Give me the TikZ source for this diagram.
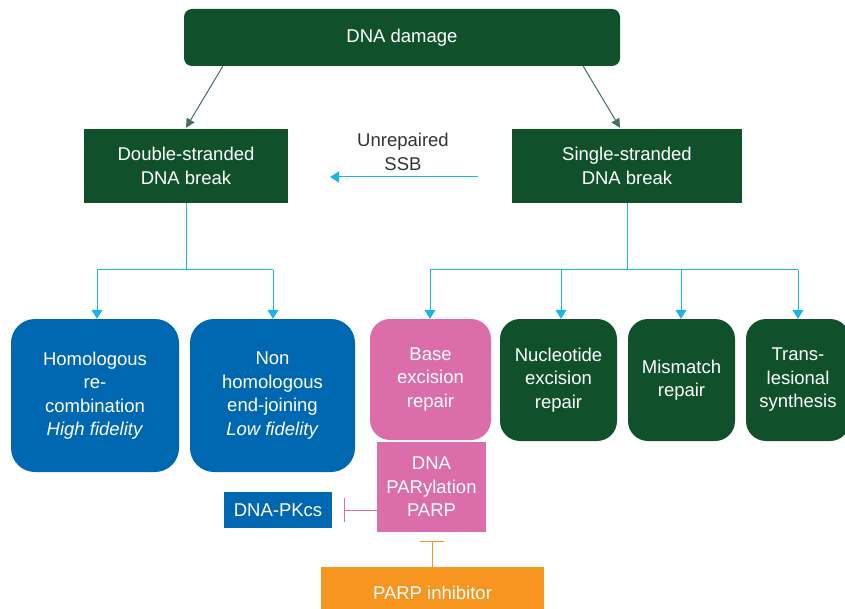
\documentclass[tikz,border=0pt]{standalone}
\usepackage{fontspec}
\setmainfont{Liberation Sans}
\usetikzlibrary{arrows.meta,calc}
\definecolor{dgreen}{HTML}{10512C}
\definecolor{dblue}{HTML}{0067B1}
\definecolor{dpink}{HTML}{DB6EAA}
\definecolor{dorange}{HTML}{F6951F}
\definecolor{dcyan}{HTML}{1CB5EA}
\definecolor{dgray}{HTML}{333333}
\definecolor{garrow}{HTML}{46705A}
\begin{document}
\begin{tikzpicture}[x=1pt,y=-1pt,
  every node/.style={font=\fontsize{18.5}{23.5}\selectfont, align=center, text=white, inner sep=0pt},
  cyanarrow/.style={draw=dcyan, line width=1pt, -{Triangle[length=9pt,width=11pt]}},
  cyanline/.style={draw=dcyan, line width=1pt},
  grayarrow/.style={draw=garrow, line width=1pt, -{Triangle[length=9pt,width=9pt]}},
  inhib/.style={line width=1pt, -{Bar[width=24pt]}}
]
\useasboundingbox (0,0) rectangle (845,609);
\begin{scope}
\clip (0,0) rectangle (845,609);
% top
\node[fill=dgreen, rounded corners=8pt, minimum width=436pt, minimum height=57pt] (dmg) at (402,37.5) {DNA damage};
\node[fill=dgreen, minimum width=204pt, minimum height=74pt] (ds) at (186,166) {Double-stranded\\DNA break};
\node[fill=dgreen, minimum width=230pt, minimum height=74pt] (ss) at (627,166) {Single-stranded\\DNA break};
% bottom row
\node[fill=dblue, rounded corners=24pt, minimum width=168pt, minimum height=153pt] (hr) at (95,395.5) {Homologous\\re-\\combination\\\textit{High fidelity}};
\node[fill=dblue, rounded corners=24pt, minimum width=165pt, minimum height=153pt] (nhej) at (272.5,395.5) {Non\\homologous\\end-joining\\\textit{Low fidelity}};
\node[fill=dpink, rounded corners=20pt, minimum width=121pt, minimum height=121pt] (ber) at (430.5,379.5) {Base\\excision\\repair};
\node[fill=dgreen, rounded corners=20pt, minimum width=117pt, minimum height=122pt] (ner) at (558.5,380) {Nucleotide\\excision\\repair};
\node[fill=dgreen, rounded corners=20pt, minimum width=107pt, minimum height=122pt] (mmr) at (681.5,380) {Mismatch\\repair};
\node[fill=dgreen, rounded corners=20pt, minimum width=104pt, minimum height=122pt] (tls) at (798,380) {Trans-\\lesional\\synthesis};
\node[fill=dpink, minimum width=109pt, minimum height=90pt] (par) at (431.5,487) {DNA\\PARylation\\PARP};
\node[fill=dblue, minimum width=108pt, minimum height=36pt] (pk) at (278,510) {DNA-PKcs};
\node[fill=dorange, minimum width=223pt, minimum height=52pt] (pi) at (432.5,593) {PARP inhibitor};
\end{scope}
% label
\node[text=dgray] (ssb) at (403,152) {Unrepaired\\SSB};
% gray arrows
\draw[grayarrow] ($(dmg.south west)+(39,0)$) -- ($(ds.north)+(0,-1)$);
\draw[grayarrow] ($(dmg.south east)+(-37,0)$) -- ($(ss.north)+(-7,-1)$);
% unrepaired SSB arrow
\coordinate (ssbR) at (478,177);
\coordinate (ssbL) at (330,177);
\draw[cyanarrow] (ssbR) -- (ssbL);
% DS tree
\coordinate (dsj) at (186,270);
\draw[cyanline] (ds.south) -- (dsj);
\draw[cyanline] (97,270) -- (273,270);
\draw[cyanarrow] (97,270) -- (hr.north -| 97,0);
\draw[cyanarrow] (273,270) -- (nhej.north -| 273,0);
% SS tree
\coordinate (ssj) at (627,270);
\draw[cyanline] (ss.south) -- (ssj);
\draw[cyanline] (430,270) -- (798,270);
\draw[cyanarrow] (430,270) -- (ber.north -| 430,0);
\draw[cyanarrow] (561,270) -- (ner.north -| 561,0);
\draw[cyanarrow] (681,270) -- (mmr.north -| 681,0);
\draw[cyanarrow] (798,270) -- (tls.north -| 798,0);
% inhibitions
\coordinate (pkbar) at (344,510);
\draw[inhib, draw=dpink] (par.west |- pkbar) -- (pkbar);
\coordinate (pibar) at (432,541);
\draw[inhib, draw=dorange] (pi.north -| pibar) -- (pibar);
\end{tikzpicture}
\end{document}
